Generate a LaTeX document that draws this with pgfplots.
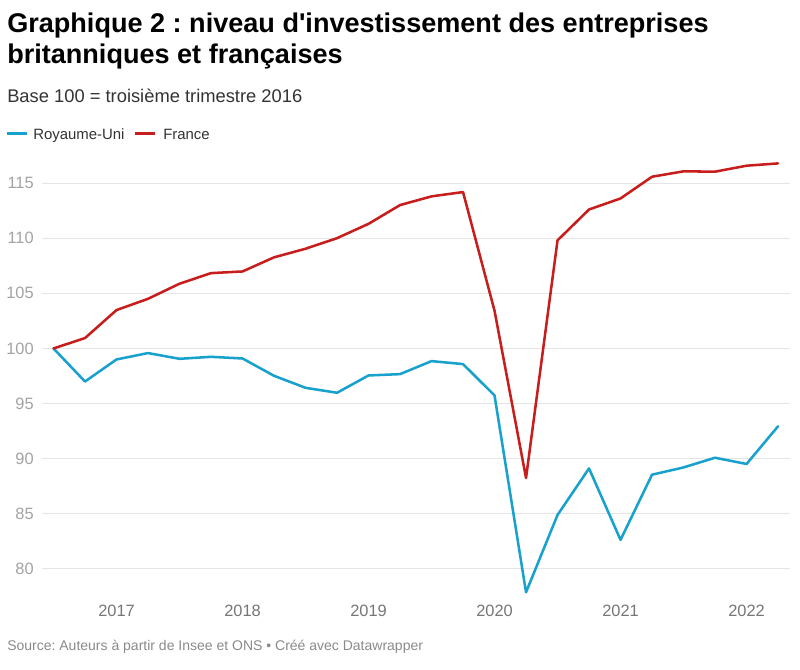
\documentclass[border=0pt]{standalone}
\usepackage{fontspec}
\setmainfont{Liberation Sans}
\usepackage{pgfplots}
\usepackage{pgfplotstable}
\pgfplotsset{compat=1.18}
\definecolor{ukblue}{HTML}{18A1CD}
\definecolor{frred}{HTML}{C71E1D}
\definecolor{gridgray}{HTML}{E5E5E5}
\definecolor{ylab}{HTML}{A3A3A3}
\definecolor{xlab}{HTML}{767676}
\definecolor{srcgray}{HTML}{8A8A8A}
\definecolor{subgray}{HTML}{333333}
\frenchspacing

\pgfplotstableread{
t uk fr
2016.50 100.00 100.00
2016.75 97.00 100.94
2017.00 99.00 103.48
2017.25 99.58 104.50
2017.50 99.06 105.87
2017.75 99.24 106.83
2018.00 99.09 106.98
2018.25 97.52 108.26
2018.50 96.43 109.04
2018.75 95.98 110.00
2019.00 97.55 111.30
2019.25 97.67 113.00
2019.50 98.85 113.79
2019.75 98.58 114.18
2020.00 95.74 103.42
2020.25 77.89 88.25
2020.50 84.90 109.80
2020.75 89.12 112.60
2021.00 82.64 113.60
2021.25 88.55 115.57
2021.50 89.21 116.06
2021.75 90.09 116.03
2022.00 89.52 116.57
2022.25 92.94 116.78
}\datatable

\begin{document}
\begin{tikzpicture}[x=0.75pt,y=-0.75pt]
\path[use as bounding box] (0,0) rectangle (800,669);
\coordinate (ax) at (42,595);
\begin{axis}[
  at={(ax)}, anchor=south west,
  scale only axis, width=561pt, height=326.25pt,
  xmin=2016.4087, xmax=2022.345,
  ymin=77.64, ymax=117.087,
  clip=false,
  axis line style={draw=none},
  major tick length=0pt,
  ytick={80,85,...,115},
  xtick={2017,2018,2019,2020,2021,2022},
  xticklabels={2017,2018,2019,2020,2021,2022},
  ymajorgrids, xmajorgrids=false,
  grid style={color=gridgray, line width=0.75pt},
  /pgf/number format/assume math mode=true,
  yticklabel style={anchor=east, inner sep=0pt, xshift=-6pt,
    font=\fontsize{12.3}{13}\selectfont, text=ylab},
  xticklabel style={anchor=base, inner sep=0pt, yshift=-15.75pt,
    font=\fontsize{12.3}{13}\selectfont, text=xlab},
]
\addplot[ukblue, line width=1.9pt, line join=round, line cap=round] table[x=t, y=uk] {\datatable};
\addplot[frred, line width=1.9pt, line join=round, line cap=round] table[x=t, y=fr] {\datatable};
\end{axis}
\node[anchor=base west, inner sep=0pt, font=\fontsize{20.3}{22}\selectfont\bfseries] at (7,32) {Graphique 2 : niveau d\textquotesingle investissement des entreprises};
\node[anchor=base west, inner sep=0pt, font=\fontsize{20.3}{22}\selectfont\bfseries] at (7,63.5) {britanniques et françaises};
\node[anchor=base west, inner sep=0pt, font=\fontsize{13.75}{15}\selectfont, text=subgray] at (7,102.3) {Base 100 = troisième trimestre 2016};
\draw[ukblue, line width=2pt] (7,133.5) -- (27,133.5);
\node[anchor=base west, inner sep=0pt, font=\fontsize{11.2}{13}\selectfont, text=subgray] at (33,139.5) {Royaume-Uni};
\draw[frred, line width=2pt] (135,133.5) -- (155,133.5);
\node[anchor=base west, inner sep=0pt, font=\fontsize{11.2}{13}\selectfont, text=subgray] at (163,139.5) {France};
\node[anchor=base west, inner sep=0pt, font=\fontsize{10.5}{12}\selectfont, text=srcgray] at (7,650) {Source: Auteurs à partir de Insee et ONS • Créé avec Datawrapper};
\end{tikzpicture}
\end{document}
